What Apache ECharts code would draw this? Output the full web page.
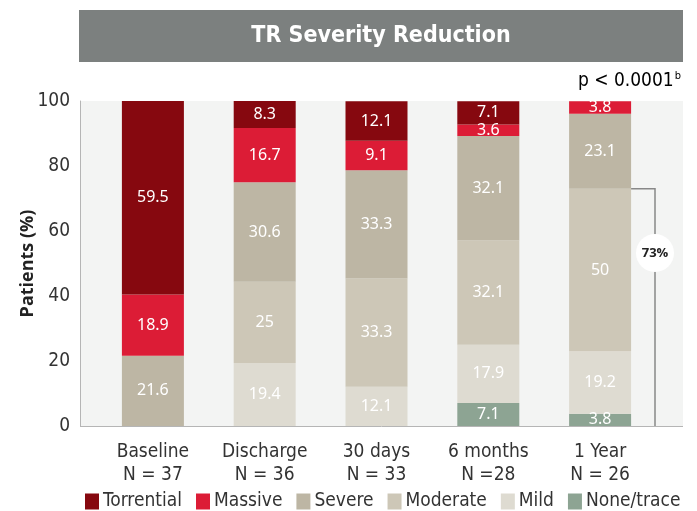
<!DOCTYPE html>
<html>
<head>
<meta charset="utf-8">
<script src="https://cdn.jsdelivr.net/npm/echarts@6/dist/echarts.min.js"></script>
<style>
html,body{margin:0;padding:0;background:#fff;}
#main{width:697px;height:511px;}
</style>
</head>
<body>
<div id="main"></div>
<script>
var categories = ['Baseline', 'Discharge', '30 days', '6 months', '1 Year'];
var sampleN = ['N = 37', 'N = 36', 'N = 33', 'N =28', 'N = 26'];
var noneTrace = [null, null, null, 7.1, 3.8];
var mild = [null, 19.4, 12.1, 17.9, 19.2];
var moderate = [null, 25, 33.3, 32.1, 50];
var severe = [21.6, 30.6, 33.3, 32.1, 23.1];
var massive = [18.9, 16.7, 9.1, 3.6, 3.8];
var torrential = [59.5, 8.3, 12.1, 7.1, null];
var yTicks = [0, 20, 40, 60, 80, 100];

var narrow = '"Liberation Sans Narrow", "DejaVu Sans Condensed", sans-serif';

function mkSeries(name, data, color) {
	return {
		name: name,
		type: 'bar',
		stack: 'tr',
		data: data,
		barWidth: 62,
		itemStyle: { color: color },
		label: {
			show: true,
			position: 'inside',
			color: '#fff',
			fontFamily: '"Noto Sans", sans-serif',
			fontSize: 16,
			formatter: function (p) { return p.value ? String(p.value) : ''; }
		}
	};
}

var myChart = echarts.init(document.getElementById('main'));
var option = {
	animation: false,
	textStyle: { fontFamily: narrow },
	grid: { left: 97, right: 41, top: 101, bottom: 85 },
	legend: {
		bottom: -5,
		left: 80,
		itemWidth: 14,
		itemHeight: 16,
		itemGap: 14,
		icon: 'rect',
		textStyle: { fontFamily: narrow, fontSize: 19, color: '#333', padding: [0, 0, 0, -1] },
		data: ['Torrential', 'Massive', 'Severe', 'Moderate', 'Mild', 'None/trace']
	},
	xAxis: {
		type: 'category',
		data: categories,
		axisTick: { show: false },
		axisLine: { show: false },
		axisLabel: {
			margin: 15,
			fontSize: 19,
			lineHeight: 23,
			color: '#333',
			fontFamily: narrow,
			formatter: function (v, i) { return v + '\n' + sampleN[i]; }
		}
	},
	yAxis: {
		type: 'value',
		min: yTicks[0],
		max: yTicks[yTicks.length - 1],
		interval: 20,
		offset: 17,
		name: 'Patients (%)',
		nameLocation: 'middle',
		nameGap: 43,
		nameMoveOverlap: false,
		nameTextStyle: { fontFamily: '"Open Sans", sans-serif', fontWeight: 'bold', fontSize: 18, color: '#222' },
		splitLine: { show: false },
		axisLine: { show: true, lineStyle: { color: '#b5b5b5' } },
		axisTick: { show: false },
		axisLabel: { fontSize: 19, color: '#333', margin: 10, fontFamily: narrow }
	},
	series: [
		mkSeries('None/trace', noneTrace, '#8da493'),
		mkSeries('Mild', mild, '#dedbd1'),
		mkSeries('Moderate', moderate, '#cdc7b7'),
		mkSeries('Severe', severe, '#bdb6a4'),
		mkSeries('Massive', massive, '#dc1c36'),
		mkSeries('Torrential', torrential, '#86080f')
	]
};
myChart.setOption(option);

// background, banner, p value, 73% bracket
var last = categories.length - 1;
var cum = (noneTrace[last] || 0) + (mild[last] || 0) + (moderate[last] || 0);
var pTop = myChart.convertToPixel({ gridIndex: 0 }, [last, cum]);
var pZero = myChart.convertToPixel({ gridIndex: 0 }, [last, 0]);
var y100 = myChart.convertToPixel({ gridIndex: 0 }, [0, 100])[1];
var bx = 655;
var barRight = pTop[0] + 31;
myChart.setOption({
	graphic: [
		{ type: 'rect', z: -10, silent: true, shape: { x: 80, y: y100, width: 603, height: pZero[1] - y100 }, style: { fill: '#f3f4f3' } },
		{ type: 'line', z: 10, shape: { x1: 80, y1: pZero[1] + 0.5, x2: 683, y2: pZero[1] + 0.5 }, style: { stroke: '#b5b5b5', lineWidth: 1 } },
		{ type: 'rect', shape: { x: 79, y: 10, width: 604, height: 52 }, style: { fill: '#7c807f' } },
		{ type: 'text', x: 381, y: 36, style: { text: 'TR Severity Reduction', fill: '#fff', font: 'bold 23px ' + narrow, align: 'center', verticalAlign: 'middle' } },
		{ type: 'text', x: 681, y: 81, style: {
			text: '{a|p < 0.0001}{b|b}', align: 'right', verticalAlign: 'middle',
			rich: { a: { fontFamily: narrow, fontSize: 19, color: '#222' }, b: { fontFamily: narrow, fontSize: 11, color: '#222', verticalAlign: 'top', padding: [0, 0, 10, 1] } }
		} },
		{ type: 'polyline', z: 10, shape: { points: [[barRight, pTop[1]], [bx, pTop[1]], [bx, pZero[1]]] }, style: { stroke: '#888', lineWidth: 1.5, fill: null } },
		{ type: 'circle', z: 11, shape: { cx: bx, cy: 253, r: 19 }, style: { fill: '#fff' } },
		{ type: 'text', z: 12, x: bx, y: 253, style: { text: Math.round(cum) + '%', fill: '#222', font: 'bold 13px "Open Sans", sans-serif', align: 'center', verticalAlign: 'middle' } }
	]
});
</script>
</body>
</html>
